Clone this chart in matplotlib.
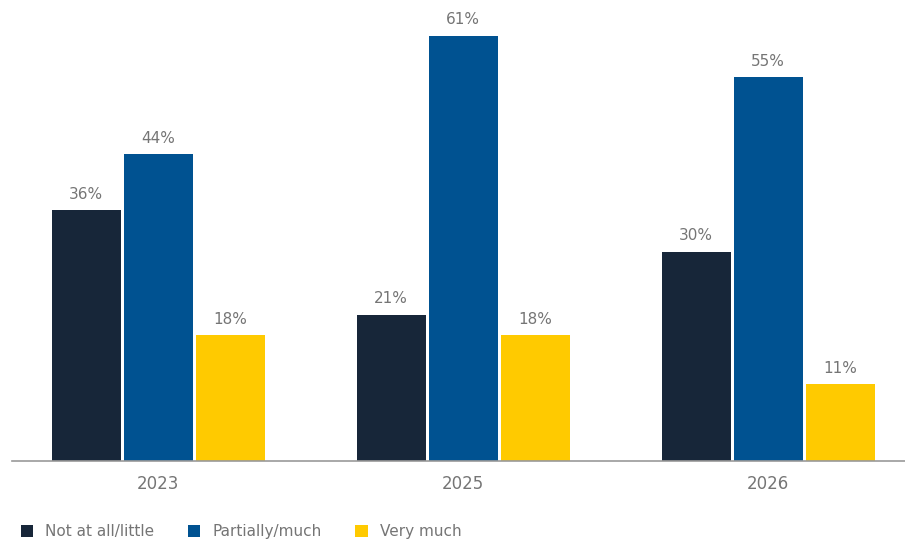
import numpy as np
import matplotlib.pyplot as plt

years = ["2023", "2025", "2026"]
series_names = ["Not at all/little", "Partially/much", "Very much"]
not_at_all = [36, 21, 30]
partially = [44, 61, 55]
very_much = [18, 18, 11]

colors = ["#172639", "#005291", "#ffca00"]
text_gray = "#757575"

fig = plt.figure(figsize=(9.05, 5.4), dpi=100)
ax = fig.add_axes([12 / 905, 79 / 540, 893 / 905, 461 / 540])

x = np.arange(len(years))
pitch = 0.236
width = 0.226
for i, (vals, name) in enumerate(zip([not_at_all, partially, very_much], series_names)):
    pos = x + (i - 1) * pitch
    bars = ax.bar(pos, vals, width=width, color=colors[i], label=name, zorder=2)
    for b, v in zip(bars, vals):
        ax.text(b.get_x() + b.get_width() / 2, v + 1.2, f"{v}%",
                ha="center", va="bottom", fontsize=11, color=text_gray)

ax.set_xlim(-0.479, 2.449)
ax.set_ylim(0, 66.1)
ax.set_xticks(x)
ax.set_xticklabels(years, fontsize=12, color=text_gray)
ax.tick_params(axis="x", length=0, pad=10)
ax.set_yticks([])
for s in ["top", "right", "left"]:
    ax.spines[s].set_visible(False)
ax.spines["bottom"].set_color("#999999")
ax.spines["bottom"].set_linewidth(1.2)

leg = fig.legend(loc="center left", bbox_to_anchor=(0.008, 0.015), ncol=3, frameon=False,
                 fontsize=11, handlelength=0.8, handleheight=0.8, columnspacing=2.2,
                 handletextpad=0.8)
for t in leg.get_texts():
    t.set_color(text_gray)

fig.savefig("out.png", dpi=100)
